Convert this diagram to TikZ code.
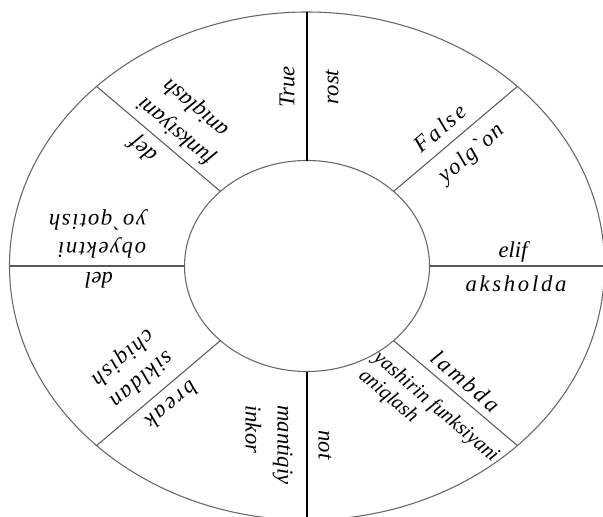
\documentclass[tikz,border=0pt]{standalone}
\usepackage{fontspec}
\setmainfont{Liberation Serif}[Ligatures=TeXOff]
\newfontfamily\spA{Liberation Serif}[Ligatures=TeXOff,LetterSpace=7]
\newfontfamily\spB{Liberation Serif}[Ligatures=TeXOff,LetterSpace=12]
\begin{document}
\begin{tikzpicture}[x=0.75pt,y=-0.75pt,
  ring/.style={draw=black!60,line width=0.8pt},
  spoke/.style={draw=black!65,line width=0.8pt},
  vspoke/.style={draw=black,line width=0.8pt},
  lab/.style={inner sep=0pt,font=\fontsize{17}{21}\selectfont\itshape},
  labA/.style={inner sep=0pt,font=\spA\fontsize{17}{21}\selectfont\itshape},
  labB/.style={inner sep=0pt,font=\spB\fontsize{17}{21}\selectfont\itshape}]
\useasboundingbox (0,0) rectangle (603,517);
\clip (0,0) rectangle (603,517);
% centre and spoke end points
\coordinate (C) at (307,266);
\coordinate (O90) at (307,12);
\coordinate (I90) at (307,160.5);
\coordinate (O270) at (307,520);
\coordinate (I270) at (307,371.5);
\coordinate (O0) at (604.5,266);
\coordinate (I0) at (429.5,266);
\coordinate (O180) at (9.5,266);
\coordinate (I180) at (184.5,266);
\coordinate (O45) at (517.4,86.4);
\coordinate (I45) at (393.6,191.4);
\coordinate (O135) at (96.6,86.4);
\coordinate (I135) at (220.4,191.4);
\coordinate (O225) at (96.6,445.6);
\coordinate (I225) at (220.4,340.6);
\coordinate (O315) at (517.4,445.6);
\coordinate (I315) at (393.6,340.6);
% rings
\draw[ring] (C) ellipse [x radius=297.5, y radius=254];
\draw[ring] (C) ellipse [x radius=122.5, y radius=105.5];
% spokes
\draw[vspoke] (I90) -- (O90);
\draw[vspoke] (I270) -- (O270);
\draw[spoke] (I0) -- (O0);
\draw[spoke] (I180) -- (O180);
\draw[spoke] (I45) -- (O45);
\draw[spoke] (I135) -- (O135);
\draw[spoke] (I225) -- (O225);
\draw[spoke] (I315) -- (O315);
% labels
\node[lab,rotate=90] (true) at (287,87) {True};
\node[lab,rotate=90] (rost) at (332,87) {rost};
\node[labB,rotate=40.5] (false) at (440,128) {False};
\node[labA,rotate=40.5] (yolgon) at (472,154) {yolg`on};
\node[lab] (elif) at (513,252) {elif};
\node[labB] (aksholda) at (516,284) {aksholda};
\node[labB,rotate=-40.5] (lambda) at (466,381) {lambda};
\node[lab,rotate=-40.5,align=left,font=\fontsize{15.5}{17}\selectfont\itshape] (yashirin) at (428.5,416) {yashirin funksiyani\\aniqlash};
\node[lab,rotate=-90] (not) at (325,445) {not};
\node[lab,rotate=-90,align=left,font=\fontsize{17}{24}\selectfont\itshape] (mantiqiy) at (269,445) {mantiqiy\\inkor};
\node[labB,rotate=220.5] (break) at (172,405) {break};
\node[labA,rotate=220.5,align=left] (sikldan) at (132,368) {sikldan\\chiqish};
\node[lab,rotate=180] (del) at (99,280) {del};
\node[labA,rotate=180,align=left] (obyektni) at (97.5,234) {obyektni\\yo`qotish};
\node[lab,rotate=139.5] (def) at (144,149) {def};
\node[lab,rotate=139.5,align=center,font=\fontsize{17}{23}\selectfont\itshape] (funk) at (186,119) {funksiyani\\aniqlash};
\end{tikzpicture}
\end{document}
